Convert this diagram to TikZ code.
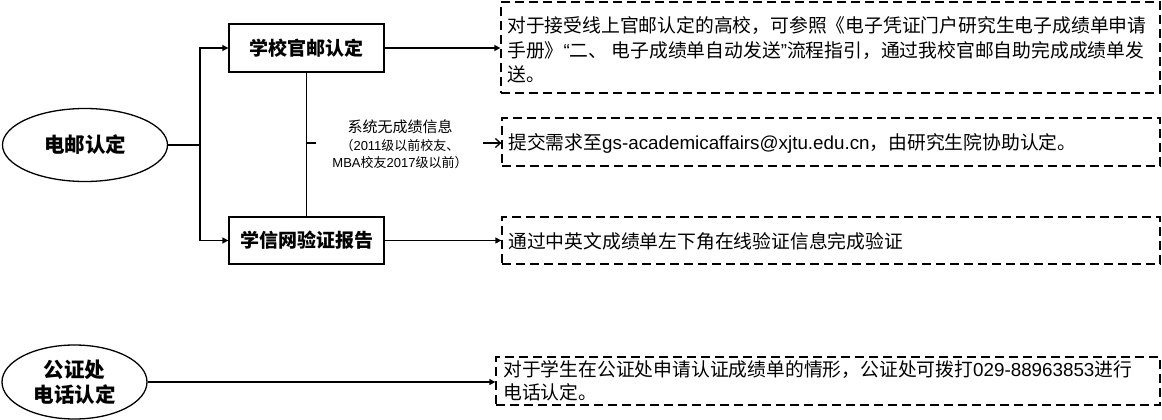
\documentclass[tikz,border=0pt]{standalone}
\usepackage{fontspec}
\setmainfont{Noto Sans CJK SC}
\newfontfamily\lat{Liberation Sans}
\usetikzlibrary{shapes.geometric,arrows.meta}
\tikzset{
  ell/.style={draw, line width=1.3pt, ellipse, inner sep=0pt, align=center, font=\fontsize{20.5}{25}\selectfont\bfseries},
  sbox/.style={draw, line width=1.3pt, inner sep=0pt, font=\fontsize{19}{22}\selectfont\bfseries},
  dbox/.style={draw, line width=1.3pt, dash pattern=on 9pt off 5pt, inner sep=0pt},
  txt/.style={anchor=west, align=left, inner sep=0pt, font=\fontsize{18.8}{24.5}\selectfont},
  conn/.style={line width=1.3pt},
  arr/.style={line width=1.3pt, -{Triangle[length=6pt,width=6pt]}},
  lbl/.style={align=center, inner sep=0pt, font=\fontsize{15}{17}\selectfont}
}
\begin{document}
\begin{tikzpicture}[x=1pt,y=-1pt]
\useasboundingbox (0,0) rectangle (1162,420);
% ellipses
\node[ell, minimum width=165pt, minimum height=73pt] (e1) at (85,145) {电邮认定};
\node[ell, minimum width=145pt, minimum height=74pt] (e2) at (74.5,382) {公证处\\电话认定};
% solid boxes
\node[sbox, minimum width=155pt, minimum height=48pt] (b1) at (306.5,48) {学校官邮认定};
\node[sbox, minimum width=155pt, minimum height=47pt] (b2) at (306.5,240.5) {学信网验证报告};
% dashed boxes
\node[dbox, minimum width=659pt, minimum height=91pt] (dA) at (830.5,47.5) {};
\node[dbox, minimum width=658pt, minimum height=48pt] (dB) at (831,142) {};
\node[dbox, minimum width=658pt, minimum height=47pt] (dC) at (831,240.5) {};
\node[dbox, minimum width=664pt, minimum height=48pt] (dD) at (828,381) {};
% texts
\node[txt] (tA) at (507,50) {对于接受线上官邮认定的高校，可参照《电子凭证门户研究生电子成绩单申请\\手册》{\lat “}二、 电子成绩单自动发送{\lat ”}流程指引，通过我校官邮自助完成成绩单发\\送。};
\node[txt] (tB) at (508,143) {提交需求至{\lat gs-academicaffairs@xjtu.edu.cn}，由研究生院协助认定。};
\node[txt] (tC) at (508,241) {通过中英文成绩单左下角在线验证信息完成验证};
\node[txt, font=\fontsize{18.8}{23}\selectfont] (tD) at (503,381) {对于学生在公证处申请认证成绩单的情形，公证处可拨打{\lat 029-88963853}进行\\电话认定。};
% label
\node[lbl] (lab) at (400,144) {系统无成绩信息\\[1pt]{\fontsize{13}{17}\selectfont （{\lat 2011}级以前校友、}\\{\fontsize{13}{17}\selectfont {\lat MBA}校友{\lat 2017}级以前）}};
% connectors
\coordinate (sp) at (200,145);
\draw[conn] (e1.east) -- (sp);
\draw[arr] (sp) |- (b1.west);
\draw[arr] (sp) |- (b2.west);
\draw[arr] (b1.east) -- (dA.west |- b1.east);
\draw[arr] (b2.east) -- (dC.west |- b2.east);
\draw[arr] (e2.east) -- (dD.west |- e2.east);
\draw[conn] (b1.south) -- (b2.north);
\coordinate (tk) at (316,143);
\draw[conn] (b1.south |- tk) -- (tk);
\coordinate (as) at (483,143);
\draw[line width=1.3pt, -{Straight Barb[length=5pt,width=9pt]}] (as) -- (dB.west |- as);
\end{tikzpicture}
\end{document}
